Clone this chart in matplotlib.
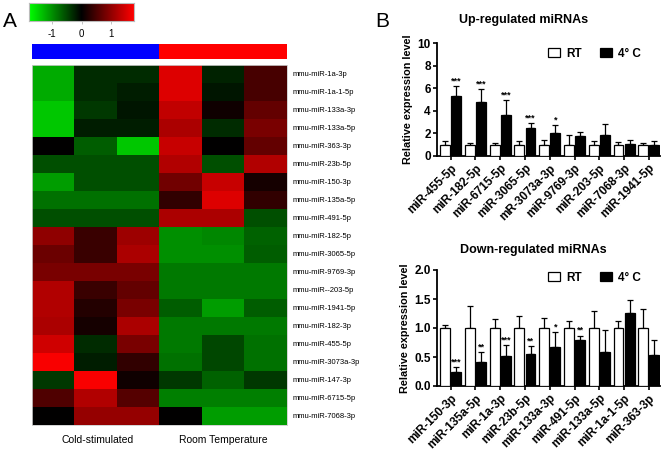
import numpy as np
import matplotlib as mpl
mpl.use('Agg')
import matplotlib.pyplot as plt
from matplotlib.colors import LinearSegmentedColormap
from matplotlib.patches import Patch

plt.rcParams['font.family'] = ['Liberation Sans', 'DejaVu Sans']

# heatmap data (z-scores)
mirs = ['mmu-miR-1a-3p', 'mmu-miR-1a-1-5p', 'mmu-miR-133a-3p', 'mmu-miR-133a-5p',
        'mmu-miR-363-3p', 'mmu-miR-23b-5p', 'mmu-miR-150-3p', 'mmu-miR-135a-5p',
        'mmu-miR-491-5p', 'mmu-miR-182-5p', 'mmu-miR-3065-5p', 'mmu-miR-9769-3p',
        'mmu-miR--203-5p', 'mmu-miR-1941-5p', 'mmu-miR-182-3p', 'mmu-miR-455-5p',
        'mmu-miR-3073a-3p', 'mmu-miR-147-3p', 'mmu-miR-6715-5p', 'mmu-miR-7068-3p']
heat = [
    [-1.2, -0.3, -0.3, 1.55, -0.25, 0.5],
    [-1.2, -0.3, -0.2, 1.55, -0.15, 0.5],
    [-1.4, -0.4, -0.15, 1.35, 0.1, 0.7],
    [-1.4, -0.2, -0.2, 1.2, -0.3, 0.85],
    [0.0, -0.65, -1.4, 1.4, 0.0, 0.7],
    [-0.55, -0.55, -0.55, 1.25, -0.55, 1.25],
    [-1.1, -0.55, -0.55, 0.8, 1.4, 0.15],
    [-0.8, -0.8, -0.8, 0.35, 1.55, 0.35],
    [-0.55, -0.55, -0.55, 1.2, 1.2, -0.55],
    [1.0, 0.4, 1.1, -1.0, -0.95, -0.7],
    [0.75, 0.4, 1.2, -1.0, -1.0, -0.65],
    [0.85, 0.85, 0.85, -0.85, -0.85, -0.85],
    [1.25, 0.4, 0.7, -0.85, -0.85, -0.85],
    [1.25, 0.25, 0.85, -0.65, -1.1, -0.65],
    [1.2, 0.15, 1.2, -0.85, -0.85, -0.85],
    [1.45, -0.3, 0.85, -0.85, -0.5, -0.8],
    [1.75, -0.2, 0.35, -0.8, -0.5, -0.8],
    [-0.4, 1.75, 0.1, -0.4, -0.7, -0.4],
    [0.55, 1.25, 0.6, -0.9, -0.9, -0.9],
    [0.0, 1.05, 1.05, 0.0, -1.1, -1.1],
]

# bar data
up_names = ['miR-455-5p', 'miR-182-5p', 'miR-6715-5p', 'miR-3065-5p', 'mR-3073a-3p',
            'miR-9769-3p', 'miR-203-5p', 'miR-7068-3p', 'miR-1941-5p']
up_rt = [1, 1, 1, 1, 1, 1, 1, 1, 1]
up_rt_err = [0.35, 0.15, 0.15, 0.3, 0.4, 0.85, 0.35, 0.2, 0.15]
up_cold = [5.3, 4.75, 3.65, 2.45, 2.05, 1.75, 1.9, 1.1, 1.0]
up_cold_err = [0.9, 1.2, 1.3, 0.45, 0.7, 0.35, 0.95, 0.3, 0.35]
up_stars = ['***', '***', '***', '***', '*', '', '', '', '']

down_names = ['miR-150-3p', 'miR-135a-5p', 'miR-1a-3p', 'miR-23b-5p', 'miR-133a-3p',
              'miR-491-5p', 'miR-133a-5p', 'miR-1a-1-5p', 'miR-363-3p']
down_rt = [1, 1, 1, 1, 1, 1, 1, 1, 1]
down_rt_err = [0.05, 0.38, 0.15, 0.2, 0.17, 0.12, 0.3, 0.12, 0.32]
down_cold = [0.24, 0.41, 0.51, 0.56, 0.68, 0.79, 0.58, 1.26, 0.54]
down_cold_err = [0.09, 0.18, 0.19, 0.13, 0.25, 0.08, 0.39, 0.23, 0.26]
down_stars = ['***', '**', '***', '**', '*', '**', '', '', '']

W, H = 667, 450
fig = plt.figure(figsize=(W / 100, H / 100), dpi=100)


def box(x0, y0, x1, y1):
    # pixel box (top-left origin) -> figure fraction
    return [x0 / W, 1 - y1 / H, (x1 - x0) / W, (y1 - y0) / H]


cmap = LinearSegmentedColormap.from_list('gkr', [(0, 1, 0), (0, 0, 0), (1, 0, 0)])

# ---- panel A ----
fig.text(3 / W, 1 - 27 / H, 'A', fontsize=15)

cax = fig.add_axes(box(29, 3, 134, 21))
grad = np.linspace(-1.8, 1.8, 256)[None, :]
cax.imshow(grad, cmap=cmap, aspect='auto', extent=(-1.8, 1.8, 0, 1), vmin=-1.8, vmax=1.8)
cax.set_yticks([])
cax.set_xticks([-1, 0, 1])
cax.set_xticklabels(['-1', '0', '1'], fontsize=7)
cax.tick_params(axis='x', length=2, width=0.5, color='#aaaaaa', pad=4)
for s in cax.spines.values():
    s.set_color('#bbbbbb')
    s.set_linewidth(0.8)

gax = fig.add_axes(box(32, 44, 287, 59))
gax.imshow([[0, 1]], cmap=LinearSegmentedColormap.from_list('br', ['#0000ff', '#ff0000']),
           aspect='auto')
gax.set_axis_off()

hax = fig.add_axes(box(32, 65, 287, 425))
hax.imshow(np.array(heat), cmap=cmap, vmin=-1.8, vmax=1.8, aspect='auto',
           interpolation='nearest')
hax.set_xticks([])
hax.set_yticks(range(len(mirs)))
hax.set_yticklabels(mirs, fontsize=5.5)
hax.yaxis.tick_right()
hax.tick_params(axis='y', length=0, pad=4)
for s in hax.spines.values():
    s.set_color('#cccccc')
    s.set_linewidth(0.6)
fig.text(98 / W, 1 - 440 / H, 'Cold-stimulated', fontsize=7.5, ha='center', va='center')
fig.text(223 / W, 1 - 440 / H, 'Room Temperature', fontsize=7.5, ha='center', va='center')

# ---- panel B ----
fig.text(375 / W, 1 - 27 / H, 'B', fontsize=15)


def bar_panel(ax, names, rt, rt_err, cold, cold_err, stars, ymax, yticks, ticklabels,
              title, title_x, title_pad, leg_y):
    x = np.arange(len(names))
    w = 0.4
    off = 0.225
    ax.bar(x - off, rt, w, color='white', edgecolor='black', linewidth=0.9, zorder=3,
           yerr=[np.zeros(len(rt)), rt_err], error_kw=dict(lw=0.9, capsize=2.5, capthick=0.9, zorder=2))
    ax.bar(x + off, cold, w, color='black', edgecolor='black', linewidth=0.9, zorder=3,
           yerr=[np.zeros(len(cold)), cold_err], error_kw=dict(lw=0.9, capsize=2.5, capthick=0.9, zorder=2))
    for i, s in enumerate(stars):
        if s:
            ax.text(x[i] + off, cold[i] + cold_err[i] + ymax * 0.005, s, ha='center', va='bottom',
                    fontsize=6.5, fontweight='bold')
    ax.set_xlim(-0.55, 8.45)
    ax.set_ylim(0, ymax)
    ax.set_yticks(yticks)
    ax.set_yticklabels(ticklabels, fontsize=8.5, fontweight='bold')
    ax.set_xticks(x)
    ax.set_xticklabels(names, rotation=45, ha='right', rotation_mode='anchor',
                       fontsize=8.5, fontweight='bold')
    ax.spines['top'].set_visible(False)
    ax.spines['right'].set_visible(False)
    ax.spines['left'].set_linewidth(1.3)
    ax.spines['bottom'].set_linewidth(1.3)
    ax.tick_params(axis='both', width=1.2, length=3, pad=1.5)
    ax.set_ylabel('Relative expression level', fontsize=7.8, fontweight='bold', labelpad=3)
    ax.set_title(title, fontsize=9, fontweight='bold', pad=title_pad, x=title_x)
    handles = [Patch(facecolor='white', edgecolor='black', linewidth=0.9),
               Patch(facecolor='black', edgecolor='black', linewidth=0.9)]
    ax.legend(handles, ['RT', '4° C'], ncol=2, frameon=False, loc='upper right',
              bbox_to_anchor=(0.915, leg_y), borderaxespad=0, borderpad=0,
              prop=dict(size=8.5, weight='bold'),
              handlelength=1.0, handleheight=0.8, columnspacing=1.6, handletextpad=0.5)


ax1 = fig.add_axes(box(437, 43, 660, 156))
bar_panel(ax1, up_names, up_rt, up_rt_err, up_cold, up_cold_err, up_stars,
          10, [0, 2, 4, 6, 8, 10], ['0', '2', '4', '6', '8', '10'], 'Up-regulated miRNAs',
          0.39, 14.5, 0.96)

ax2 = fig.add_axes(box(437, 270, 660, 386))
bar_panel(ax2, down_names, down_rt, down_rt_err, down_cold, down_cold_err, down_stars,
          2.0, [0, 0.5, 1.0, 1.5, 2.0], ['0.0', '0.5', '1.0', '1.5', '2.0'], 'Down-regulated miRNAs',
          0.43, 12, 0.985)

fig.savefig('out.png', dpi=100)
